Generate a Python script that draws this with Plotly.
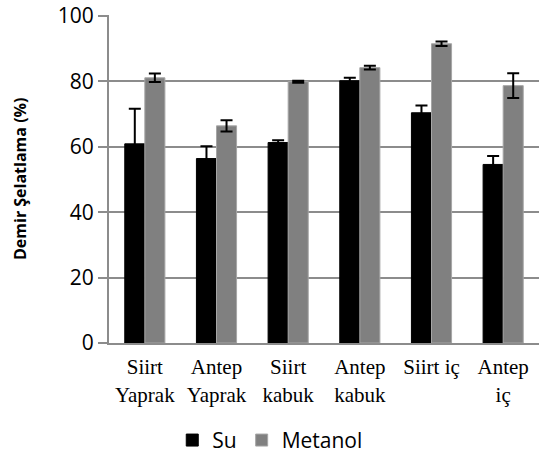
import plotly.graph_objects as go

categories = ["Siirt<br>Yaprak", "Antep<br>Yaprak", "Siirt<br>kabuk", "Antep<br>kabuk", "Siirt iç", "Antep<br>iç"]
su = [60.9, 56.4, 61.3, 80.2, 70.4, 54.6]
su_err = [10.7, 3.8, 0.7, 0.9, 2.2, 2.6]
metanol = [81.1, 66.4, 79.9, 84.2, 91.5, 78.7]
metanol_err = [1.3, 1.7, 0.3, 0.6, 0.7, 3.8]

fig = go.Figure()
fig.add_trace(go.Bar(
    x=categories, y=su, name="Su",
    marker=dict(color="#000000", line=dict(color="#000000", width=1)),
    error_y=dict(type="data", array=su_err, color="#000000", thickness=2, width=6),
))
fig.add_trace(go.Bar(
    x=categories, y=metanol, name="Metanol",
    marker=dict(color="#808080", line=dict(color="#a6a6a6", width=1)),
    error_y=dict(type="data", array=metanol_err, color="#000000", thickness=2, width=6),
))

fig.update_layout(
    width=539, height=460,
    margin=dict(l=109, r=0, t=15, b=117, autoexpand=False),
    paper_bgcolor="white", plot_bgcolor="white",
    barmode="group", bargap=0.44, bargroupgap=0,
    font=dict(family="Open Sans", color="black"),
    showlegend=True,
    legend=dict(
        orientation="h", x=0.375, xanchor="center", y=-0.297, yanchor="middle",
        font=dict(family="Open Sans", size=21, color="black"),
        traceorder="normal", itemwidth=30,
    ),
    xaxis=dict(
        automargin=False,
        showgrid=False, showline=True, linecolor="#8c8c8c", linewidth=2,
        ticks="", tickfont=dict(family="Liberation Serif", size=21, color="black"),
        ticklabelstandoff=4,
    ),
    yaxis=dict(
        automargin=False,
        # a little headroom so the gridline at 100 is still drawn
        range=[0, 100.3], dtick=20, showgrid=True, gridcolor="#8c8c8c", gridwidth=2,
        showline=True, linecolor="#8c8c8c", linewidth=2,
        ticks="outside", ticklen=9, tickcolor="#8c8c8c", tickwidth=2,
        tickfont=dict(family="Open Sans", size=21, color="black"),
        zeroline=False,
    ),
    annotations=[dict(
        text="<b>Demir Şelatlama (%)</b>", textangle=-90,
        xref="paper", yref="paper", x=-(109 - 20) / 430, y=0.5,
        xanchor="center", yanchor="middle", showarrow=False,
        font=dict(family="Open Sans", size=16, color="black"),
    )],
)

# drop the default 8px page margin so the figure fills the window
fig.write_html("out.html", config={"displayModeBar": False},
               post_script="document.body.style.margin='0';")
